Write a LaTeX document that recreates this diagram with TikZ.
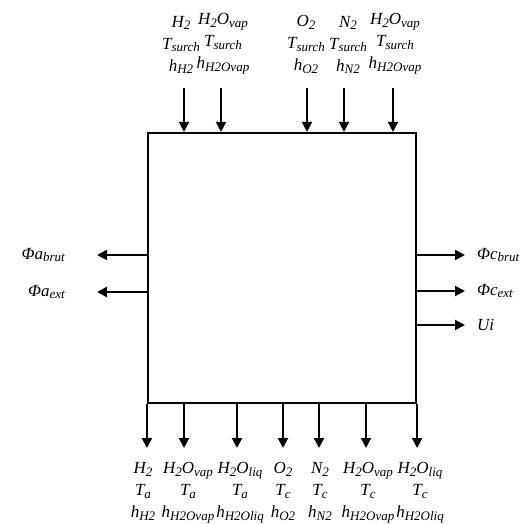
\documentclass[tikz,border=0pt]{standalone}
\usepackage{fontspec}
\setmainfont{Liberation Serif}
\usepackage{tikz}
\usetikzlibrary{arrows.meta, positioning}
\newcommand{\sub}[1]{\raisebox{-0.35ex}{\fontsize{13}{13}\selectfont #1}}

\begin{document}
\begin{tikzpicture}[
  x=1pt, y=-1pt,
  every node/.style={font=\fontsize{17}{22}\selectfont\itshape},
  stack/.style={draw, line width=2.2pt, minimum width=268pt, minimum height=270pt, inner sep=0pt},
  lbl/.style={align=center, inner sep=2pt},
  flow/.style={-{Triangle[length=10pt, width=10pt]}, line width=2pt}
]
  \useasboundingbox (0,0) rectangle (528,524);

  % bloc central
  \node[stack] (box) at (282,268) {};

  % entrees (haut)
  \node[lbl, anchor=south] (inH2) at (181,76) {H\sub{2}\\T\sub{surch}\\h\sub{H2}};
  \node[lbl, anchor=south] (inH2Oa) at (223,76) {H\sub{2}O\sub{vap}\\T\sub{surch}\\h\sub{H2Ovap}};
  \node[lbl, anchor=south] (inO2) at (306,76) {O\sub{2}\\T\sub{surch}\\h\sub{O2}};
  \node[lbl, anchor=south] (inN2) at (348,76) {N\sub{2}\\T\sub{surch}\\h\sub{N2}};
  \node[lbl, anchor=south] (inH2Oc) at (395,76) {H\sub{2}O\sub{vap}\\T\sub{surch}\\h\sub{H2Ovap}};

  \draw[flow, shorten <=12pt] (inH2.south -| 184,0) -- (184,0 |- box.north);
  \draw[flow, shorten <=12pt] (inH2Oa.south -| 221,0) -- (221,0 |- box.north);
  \draw[flow, shorten <=12pt] (inO2.south -| 307,0) -- (307,0 |- box.north);
  \draw[flow, shorten <=12pt] (inN2.south -| 344,0) -- (344,0 |- box.north);
  \draw[flow, shorten <=12pt] (inH2Oc.south -| 393,0) -- (393,0 |- box.north);

  % sorties (bas)
  \node[lbl, anchor=north] (outH2) at (143,460) {H\sub{2}\\T\sub{a}\\h\sub{H2}};
  \node[lbl, anchor=north] (outH2Oa) at (188,460) {H\sub{2}O\sub{vap}\\T\sub{a}\\h\sub{H2Ovap}};
  \node[lbl, anchor=north] (outLa) at (240,460) {H\sub{2}O\sub{liq}\\T\sub{a}\\h\sub{H2Oliq}};
  \node[lbl, anchor=north] (outO2) at (283,460) {O\sub{2}\\T\sub{c}\\h\sub{O2}};
  \node[lbl, anchor=north] (outN2) at (320,460) {N\sub{2}\\T\sub{c}\\h\sub{N2}};
  \node[lbl, anchor=north] (outH2Oc) at (368,460) {H\sub{2}O\sub{vap}\\T\sub{c}\\h\sub{H2Ovap}};
  \node[lbl, anchor=north] (outLc) at (420,460) {H\sub{2}O\sub{liq}\\T\sub{c}\\h\sub{H2Oliq}};

  \draw[flow, shorten >=12pt] (box.south west) -- (box.south west |- outH2.north);
  \draw[flow, shorten >=12pt] (184,0 |- box.south) -- (184,0 |- outH2Oa.north);
  \draw[flow, shorten >=12pt] (237,0 |- box.south) -- (237,0 |- outLa.north);
  \draw[flow, shorten >=12pt] (outO2 |- box.south) -- (outO2);
  \draw[flow, shorten >=12pt] (319,0 |- box.south) -- (319,0 |- outN2.north);
  \draw[flow, shorten >=12pt] (366,0 |- box.south) -- (366,0 |- outH2Oc.north);
  \draw[flow, shorten >=12pt] (box.south east) -- (box.south east |- outLc.north);

  % flux anode (gauche)
  \node[lbl, anchor=east] (phiab) at (67,255) {Φa\sub{brut}};
  \node[lbl, anchor=east] (phiae) at (67,292) {Φa\sub{ext}};
  \draw[flow, shorten >=30pt] (box.west |- phiab) -- (phiab);
  \draw[flow, shorten >=30pt] (box.west |- phiae) -- (phiae);

  % flux cathode (droite)
  \node[lbl, anchor=west] (phicb) at (475,255) {Φc\sub{brut}};
  \node[lbl, anchor=west] (phice) at (475,291) {Φc\sub{ext}};
  \node[lbl, anchor=west] (ui) at (475,325) {Ui};
  \draw[flow, shorten >=10pt] (box.east |- phicb) -- (phicb);
  \draw[flow, shorten >=10pt] (box.east |- phice) -- (phice);
  \draw[flow, shorten >=10pt] (box.east |- ui) -- (ui);
\end{tikzpicture}
\end{document}
